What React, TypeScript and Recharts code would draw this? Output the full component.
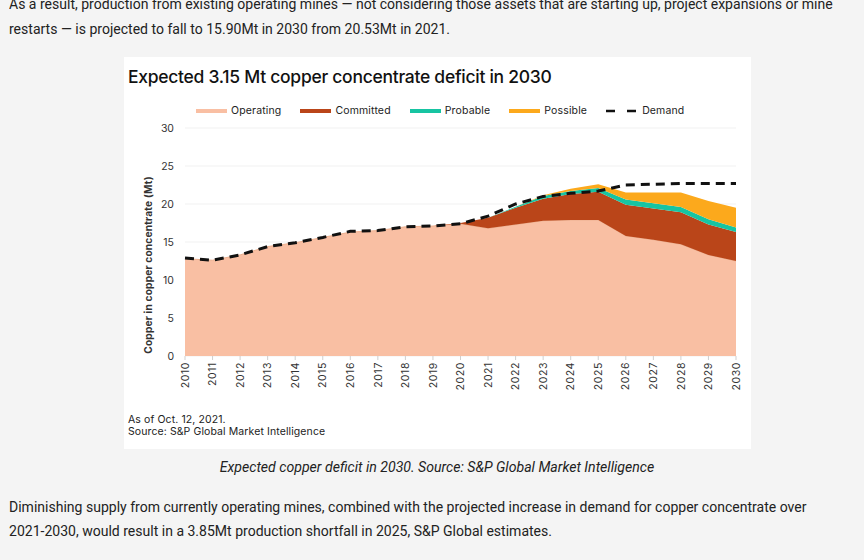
import { ComposedChart, Area, Line, XAxis, YAxis, CartesianGrid, Label } from 'recharts'

const years = ['2010', '2011', '2012', '2013', '2014', '2015', '2016', '2017', '2018', '2019', '2020',
  '2021', '2022', '2023', '2024', '2025', '2026', '2027', '2028', '2029', '2030']
const operating = [12.8, 12.6, 13.3, 14.4, 14.9, 15.6, 16.3, 16.5, 17.0, 17.1, 17.4, 16.8, 17.3, 17.8, 17.9, 17.9, 15.8, 15.3, 14.7, 13.3, 12.5]
const committed = [0, 0, 0, 0, 0, 0, 0, 0, 0, 0, 0.1, 1.4, 2.2, 2.9, 3.4, 3.7, 4.1, 4.1, 4.2, 4.0, 3.8]
const probable = [0, 0, 0, 0, 0, 0, 0, 0, 0, 0, 0, 0, 0.15, 0.35, 0.4, 0.5, 0.7, 0.7, 0.7, 0.7, 0.6]
const possible = [0, 0, 0, 0, 0, 0, 0, 0, 0, 0, 0, 0, 0, 0.1, 0.3, 0.5, 0.9, 1.4, 1.9, 2.4, 2.6]
const demand = [12.9, 12.6, 13.3, 14.4, 14.9, 15.6, 16.4, 16.5, 17.0, 17.1, 17.4, 18.4, 20.0, 21.0, 21.4, 21.7, 22.5, 22.6, 22.7, 22.7, 22.7]
const yTicks = [0, 5, 10, 15, 20, 25, 30]

const legendItems = [
  { name: 'Operating', color: '#F9BFA3' },
  { name: 'Committed', color: '#BA4519' },
  { name: 'Probable', color: '#17C4A2' },
  { name: 'Possible', color: '#FCA91C' },
]

const data = years.map((y, i) => ({
  year: y, operating: operating[i], committed: committed[i], probable: probable[i], possible: possible[i], demand: demand[i],
}))

const chartFont = 'Inter, "DejaVu Sans", sans-serif'
const pageFont = 'Roboto, "Liberation Sans", sans-serif'

function YearTick({ x, y, payload }: any) {
  return (
    <text x={x} y={y} transform={`rotate(-90 ${x} ${y})`} textAnchor="end" dy="0.35em"
      fontSize={10.5} fill="#333" fontFamily={chartFont} letterSpacing={0.6}>
      {payload.value}
    </text>
  )
}

function TextRow({ top, left = 9, scale = 0.935, italic = false, center = false, children }: any) {
  return (
    <div style={{
      position: 'absolute', top, left: center ? 5 : left, width: center ? 864 : undefined,
      textAlign: center ? 'center' : 'left', whiteSpace: 'nowrap', fontFamily: pageFont, fontSize: 15,
      lineHeight: '20px', color: '#222', fontStyle: italic ? 'italic' : 'normal',
      transform: `scaleX(${scale})`, transformOrigin: center ? '432px 0' : 'left top',
    }}>{children}</div>
  )
}

export default function App() {
  return (
    <div style={{ position: 'absolute', left: 0, top: 0, width: 864, height: 560, background: '#F4F4F4', overflow: 'hidden' }}>
      <TextRow top={-6}>As a result, production from existing operating mines — not considering those assets that are starting up, project expansions or mine</TextRow>
      <TextRow top={19}>restarts — is projected to fall to 15.90Mt in 2030 from 20.53Mt in 2021.</TextRow>

      <div style={{ position: 'absolute', left: 124, top: 57, width: 627, height: 392, background: '#fff' }}>
        <div style={{ position: 'absolute', left: 4, top: 9, fontFamily: chartFont, fontSize: 17.5, fontWeight: 500, color: '#111', letterSpacing: -0.28, whiteSpace: 'nowrap' }}>
          Expected 3.15 Mt copper concentrate deficit in 2030
        </div>
        <div style={{ position: 'absolute', left: 72, top: 47, display: 'flex', alignItems: 'center', fontFamily: chartFont, fontSize: 10.5, letterSpacing: 0.15, color: '#222' }}>
          {legendItems.map(it => (
            <div key={it.name} style={{ display: 'flex', alignItems: 'center', marginRight: 19 }}>
              <span style={{ width: 31, height: 4, background: it.color, marginRight: 4 }} />
              <span>{it.name}</span>
            </div>
          ))}
          <div style={{ display: 'flex', alignItems: 'center' }}>
            <svg width={30} height={6} style={{ marginRight: 6 }}>
              <line x1={0} y1={3} x2={30} y2={3} stroke="#111" strokeWidth={2.5} strokeDasharray="9 12" />
            </svg>
            <span>Demand</span>
          </div>
        </div>

        <ComposedChart width={627} height={392} data={data} margin={{ top: 71, right: 15, bottom: 33, left: 11 }}>
          <CartesianGrid vertical={false} stroke="#F1F1F1" />
          <XAxis dataKey="year" interval={0} height={60} tick={<YearTick />} tickSize={4} tickMargin={2}
            tickLine={{ stroke: '#cfcfcf' }} axisLine={false} />
          <YAxis domain={[0, 30]} ticks={yTicks} width={50} axisLine={false} tickLine={false} tickMargin={5}
            tick={{ fontSize: 10.5, fill: '#333', fontFamily: chartFont }}>
            <Label value="Copper in copper concentrate (Mt)" angle={-90} position="insideLeft" offset={13} dy={23}
              style={{ textAnchor: 'middle', fontSize: 10.2, fontWeight: 700, fill: '#333', fontFamily: chartFont, letterSpacing: 0.15 }} />
          </YAxis>
          <Area type="linear" dataKey="operating" stackId="s" fill="#F9BFA3" fillOpacity={1} stroke="#ECB08F" strokeWidth={1} isAnimationActive={false} />
          <Area type="linear" dataKey="committed" stackId="s" fill="#BA4519" fillOpacity={1} stroke="none" isAnimationActive={false} />
          <Area type="linear" dataKey="probable" stackId="s" fill="#17C4A2" fillOpacity={1} stroke="none" isAnimationActive={false} />
          <Area type="linear" dataKey="possible" stackId="s" fill="#FCA91C" fillOpacity={1} stroke="none" isAnimationActive={false} />
          <Line type="linear" dataKey="demand" stroke="#111" strokeWidth={3} strokeDasharray="9 6" dot={false} isAnimationActive={false} />
        </ComposedChart>

        <div style={{ position: 'absolute', left: 4, top: 357, fontFamily: chartFont, fontSize: 10.5, color: '#222', lineHeight: '12px', letterSpacing: 0.1 }}>
          <div>As of Oct. 12, 2021.</div>
          <div>Source: S&amp;P Global Market Intelligence</div>
        </div>
      </div>

      <TextRow top={457} italic center scale={0.94}>Expected copper deficit in 2030. Source: S&amp;P Global Market Intelligence</TextRow>
      <TextRow top={497}>Diminishing supply from currently operating mines, combined with the projected increase in demand for copper concentrate over</TextRow>
      <TextRow top={521}>2021-2030, would result in a 3.85Mt production shortfall in 2025, S&amp;P Global estimates.</TextRow>
    </div>
  )
}
